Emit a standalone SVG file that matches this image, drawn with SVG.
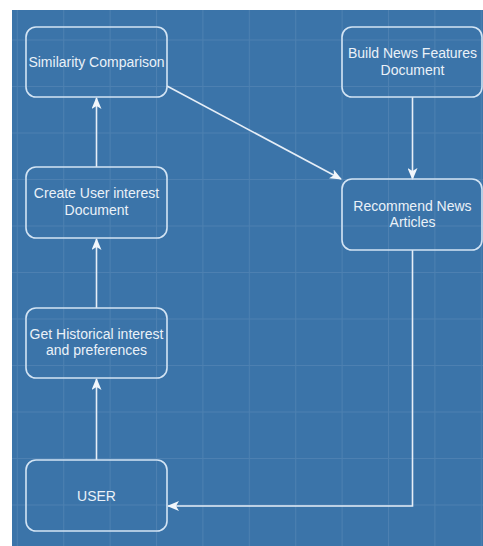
<svg xmlns="http://www.w3.org/2000/svg" width="483" height="546" viewBox="0 0 483 546">
  <style>
    .node rect { fill: none; stroke: #d3e4f4; stroke-width: 1.6; }
    .node text { font-family: "Liberation Sans", Arial, sans-serif; font-size: 14px; fill: #eaf1f8; text-anchor: middle; }
    .conn { fill: none; stroke: #e6eef7; stroke-width: 1.6; }
    .grid { stroke: #ffffff; stroke-opacity: 0.09; stroke-width: 1; }
  </style>
  <defs>
    <marker id="arrow" viewBox="0 0 12 10" refX="11" refY="5" markerWidth="12" markerHeight="10" markerUnits="userSpaceOnUse" orient="auto">
      <path d="M0,0 L12,5 L0,10 L3,5 Z" fill="#f2f6fb"/>
    </marker>
    <pattern id="gridpat" x="16.8" y="39.5" width="46.4" height="46.5" patternUnits="userSpaceOnUse">
      <path d="M0.5,0 V46.5 M0,0.5 H46.4" class="grid"/>
    </pattern>
  </defs>
  <rect x="0" y="0" width="483" height="546" fill="#ffffff"/>
  <rect x="12" y="10" width="471" height="536" fill="#3b74a9"/>
  <rect x="12" y="10" width="471" height="536" fill="url(#gridpat)"/>

  <g id="connectors">
    <line class="conn" x1="96.5" y1="167" x2="96.5" y2="98" marker-end="url(#arrow)"/>
    <line class="conn" x1="96.5" y1="308" x2="96.5" y2="239" marker-end="url(#arrow)"/>
    <line class="conn" x1="96.5" y1="460" x2="96.5" y2="379" marker-end="url(#arrow)"/>
    <line class="conn" x1="167" y1="86" x2="341" y2="179" marker-end="url(#arrow)"/>
    <line class="conn" x1="412.5" y1="97" x2="412.5" y2="179" marker-end="url(#arrow)"/>
    <polyline class="conn" points="412.5,250 412.5,506 168,506" marker-end="url(#arrow)"/>
  </g>

  <g id="similarity" class="node">
    <rect x="26" y="27" width="141" height="70" rx="10"/>
    <text x="96.5" y="67">Similarity Comparison</text>
  </g>
  <g id="build-news" class="node">
    <rect x="342" y="27" width="140" height="70" rx="10"/>
    <text x="412.5" y="58">Build News Features</text>
    <text x="412.5" y="75">Document</text>
  </g>
  <g id="create-user" class="node">
    <rect x="26" y="167" width="141" height="71" rx="10"/>
    <text x="96.5" y="198">Create User interest</text>
    <text x="96.5" y="215">Document</text>
  </g>
  <g id="recommend" class="node">
    <rect x="342" y="179" width="140" height="71" rx="10"/>
    <text x="412.5" y="211">Recommend News</text>
    <text x="412.5" y="227">Articles</text>
  </g>
  <g id="historical" class="node">
    <rect x="26" y="308" width="141" height="70" rx="10"/>
    <text x="96.5" y="339">Get Historical interest</text>
    <text x="96.5" y="355">and preferences</text>
  </g>
  <g id="user" class="node">
    <rect x="26" y="460" width="141" height="71" rx="10"/>
    <text x="96.5" y="500.5">USER</text>
  </g>
</svg>
